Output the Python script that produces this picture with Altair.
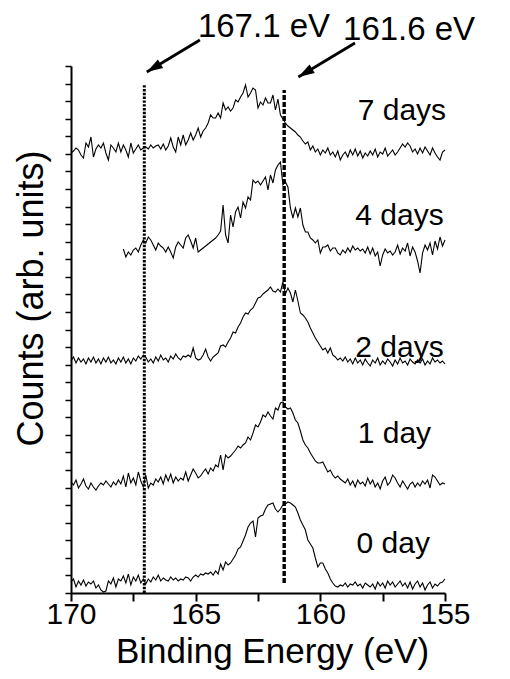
import altair as alt
import pandas as pd

FONT = "Liberation Sans"

# Binding energy grid: 0.1 eV steps, descending from the start energy
start_full = 170.0
start_4d = 167.9

# Counts (arb. units, offset stacked)
day0 = [
    11, 14, 6, 12, 8, 13, 7, 11, 9, 12,
    5, 8, 3, 1, 2, 12, 9, 15, 6, 14,
    12, 17, 10, 19, 8, 16, 12, 18, 10, 14,
    9, 14, 11, 16, 13, 18, 12, 15, 13, 12,
    16, 13, 15, 12, 14, 13, 16, 15, 12, 16,
    18, 16, 19, 18, 20, 19, 21, 18, 22, 19,
    29, 23, 31, 28, 30, 34, 38, 44, 46, 52,
    58, 66, 70, 72, 56, 75, 77, 78, 84, 88,
    89, 90, 84, 81, 84, 88, 89, 91, 90, 88,
    86, 80, 73, 68, 63, 53, 49, 45, 35, 26,
    30, 30, 24, 20, 14, 10, 7, 6, 8, 7,
    10, 6, 9, 8, 11, 7, 9, 5, 10, 8,
    6, 9, 4, 11, 7, 10, 5, 12, 8, 11,
    6, 9, 12, 7, 10, 5, 11, 4, 9, 12,
    6, 10, 3, 8, 11, 5, 9, 7, 10, 11,
    14,
]
day1 = [
    111, 108, 113, 105, 109, 114, 107, 104, 110, 106,
    103, 107, 110, 108, 112, 109, 106, 111, 108, 113,
    109, 117, 106, 120, 110, 115, 108, 121, 112, 106,
    118, 105, 110, 108, 114, 111, 116, 109, 118, 112,
    119, 110, 116, 112, 115, 113, 121, 112, 118, 124,
    120, 115, 117, 121, 124, 119, 125, 122, 128, 126,
    138, 123, 138, 135, 137, 140, 143, 147, 145, 148,
    150, 156, 153, 160, 168, 166, 171, 178, 176, 181,
    177, 174, 185, 183, 190, 191, 186, 184, 185, 180,
    173, 170, 162, 153, 148, 145, 140, 136, 132, 130,
    130, 131, 126, 121, 123, 118, 115, 117, 114, 112,
    110, 114, 108, 112, 106, 113, 109, 111, 107, 115,
    109, 113, 106, 110, 104, 112, 116, 108, 111, 118,
    115, 110, 106, 112, 108, 104, 109, 111, 106, 110,
    107, 112, 109, 113, 105, 118, 116, 112, 108, 110,
    109,
]
day2 = [
    232, 236, 230, 235, 231, 234, 229, 235, 231, 236,
    230, 234, 229, 235, 231, 236, 230, 233, 229, 235,
    231, 236, 230, 234, 229, 235, 232, 237, 234, 238,
    236, 231, 234, 230, 236, 232, 238, 233, 235, 231,
    237, 234, 239, 235, 233, 237, 236, 238, 236, 245,
    235, 233, 234, 238, 244, 236, 232, 236, 238, 240,
    247, 248, 246, 251, 255, 261, 260, 266, 270, 276,
    280, 279, 283, 285, 290, 295, 296, 299, 301, 303,
    306, 302, 301, 304, 301, 311, 299, 305, 300, 291,
    303, 292, 280, 278, 275, 271, 265, 260, 255, 251,
    247, 243, 245, 240, 245, 238, 236, 233, 235, 232,
    236, 231, 234, 229, 235, 230, 233, 228, 234, 230,
    227, 233, 230, 235, 228, 232, 229, 234, 231, 227,
    233, 229, 235, 230, 232, 228, 234, 231, 229, 233,
    230, 234, 228, 232, 229, 235, 231, 233, 230, 232,
    229,
]
day4 = [
    344, 336, 341, 338, 343, 345, 341, 348, 353, 350,
    356, 353, 348, 343, 350, 347, 345, 341, 346, 341,
    335, 346, 351, 348, 345, 355, 358, 352, 345, 355,
    341, 343, 345, 347, 349, 351, 353, 355, 358, 362,
    388, 358, 350, 378, 366, 381, 386, 375, 391, 385,
    396, 393, 413, 410, 412, 408, 412, 416, 403, 418,
    410, 423, 428, 431, 408, 411, 406, 385, 375, 385,
    376, 385, 368, 361, 361, 355, 353, 350, 353, 340,
    346, 346, 348, 342, 345, 345, 340, 338, 343, 340,
    345, 341, 347, 343, 345, 342, 344, 340, 346, 339,
    345, 337, 341, 327, 338, 344, 340, 342, 338, 341,
    348, 339, 345, 342, 350, 337, 346, 341, 332, 320,
    340, 348, 343, 350, 338, 352, 344, 356, 347, 353,
]
day7 = [
    440, 442, 445, 443, 438, 435, 450, 446, 456, 436,
    444, 448, 445, 450, 440, 433, 448, 445, 441, 450,
    441, 448, 443, 436, 450, 440, 444, 448, 443, 445,
    446, 444, 448, 445, 447, 448, 444, 449, 443, 447,
    455, 446, 441, 456, 448, 458, 448, 453, 460, 453,
    458, 465, 456, 462, 465, 470, 478, 475, 475, 480,
    475, 490, 483, 486, 482, 485, 493, 491, 496, 500,
    508, 496, 500, 505, 503, 485, 491, 488, 495, 490,
    490, 498, 483, 494, 478, 474, 470, 467, 465, 463,
    461, 458, 456, 452, 449, 451, 443, 447, 441, 444,
    438, 443, 440, 445, 438, 441, 436, 442, 433, 438,
    441, 436, 443, 438, 444, 437, 442, 435, 440, 437,
    442, 438, 444, 436, 441, 439, 445, 437, 440, 443,
    438, 441, 445, 449, 446, 450, 447, 441, 444, 439,
    445, 440, 446, 442, 438, 445, 440, 436, 433, 441,
    443,
]

# Day labels
label_text = ["7 days", "4 days", "2 days", "1 day", "0 day"]
label_energy = [158.5, 158.6, 158.6, 158.5, 158.55]
label_counts = [473, 368, 236, 150, 40]

# Reference lines
ref_energy = [167.06, 161.45]
ref_top = [509, 503]
ref_bottom = [0, 10]

# Annotations (eV text + arrows)
ann_text = ["167.1 eV", "161.6 eV"]
ann_energy = [164.91, 159.09]
ann_counts = [556, 553]
arrow_x1 = [164.83, 158.61]
arrow_y1 = [553, 550]
arrow_x2 = [166.96, 160.88]
arrow_y2 = [521, 516]
arrow_angle = [239, 239]

# Axis ticks
x_ticks = [170, 167.5, 165, 162.5, 160, 157.5, 155]
n_y_ticks = 31

series = [("0 day", start_full, day0), ("1 day", start_full, day1),
          ("2 days", start_full, day2), ("4 days", start_4d, day4),
          ("7 days", start_full, day7)]
rows = []
for name, start, vals in series:
    for i, v in enumerate(vals):
        rows.append({"energy": round(start - 0.1 * i, 1), "counts": v, "series": name})
df = pd.DataFrame(rows)

xs = alt.Scale(domain=[170, 155], nice=False, zero=False)
ys = alt.Scale(domain=[0, 527], nice=False, zero=False)

x_axis = alt.Axis(
    values=x_ticks, tickCount=len(x_ticks),
    labelExpr="datum.value % 5 === 0 ? datum.label : ''",
    labelFont=FONT, labelFontSize=30, labelColor="black",
    labelBaseline="alphabetic", labelPadding=22, labelFlush=False,
    labelOverlap=False, labelBound=False,
    tickSize=8, tickWidth=2, tickColor="black",
    domainColor="black", domainWidth=2, grid=False,
    titleFont=FONT, titleFontSize=35, titleFontWeight="normal", titleColor="black",
    titleX=201, titleY=69, titleBaseline="alphabetic", titleAlign="center",
)
y_axis = alt.Axis(
    values=[round(i * 527 / (n_y_ticks - 1), 2) for i in range(n_y_ticks)],
    tickCount=n_y_ticks, labelOverlap=False,
    labels=False, tickSize=6, tickWidth=1.5, tickColor="black",
    domainColor="black", domainWidth=2, grid=False,
    titleFont=FONT, titleFontSize=36, titleFontWeight="normal", titleColor="black",
    titleX=-40, titleY=232, titleBaseline="middle", titleAlign="center", titleAngle=-90,
)

lines = alt.Chart(df).mark_line(color="black", strokeWidth=1.1).encode(
    x=alt.X("energy:Q", scale=xs, axis=x_axis, title="Binding Energy (eV)"),
    y=alt.Y("counts:Q", scale=ys, axis=y_axis, title="Counts (arb. units)"),
    detail="series:N",
)

ref_df = pd.DataFrame({"energy": ref_energy, "top": ref_top, "bottom": ref_bottom})
dotted = alt.Chart(ref_df.iloc[[0]]).mark_rule(
    color="black", strokeWidth=3, strokeDash=[2.4, 1.4]
).encode(x=alt.X("energy:Q", scale=xs), y=alt.Y("bottom:Q", scale=ys), y2="top:Q")
dashed = alt.Chart(ref_df.iloc[[1]]).mark_rule(
    color="black", strokeWidth=3.4, strokeDash=[5, 2]
).encode(x=alt.X("energy:Q", scale=xs), y=alt.Y("bottom:Q", scale=ys), y2="top:Q")

lab_df = pd.DataFrame({"energy": label_energy, "counts": label_counts, "text": label_text})
labels = alt.Chart(lab_df).mark_text(
    align="left", baseline="alphabetic", font=FONT, fontSize=30, color="black"
).encode(x=alt.X("energy:Q", scale=xs), y=alt.Y("counts:Q", scale=ys), text="text:N")

ann_df = pd.DataFrame({"energy": ann_energy, "counts": ann_counts, "text": ann_text})
ann = alt.Chart(ann_df).mark_text(
    align="left", baseline="alphabetic", font=FONT, fontSize=33, color="black"
).encode(x=alt.X("energy:Q", scale=xs), y=alt.Y("counts:Q", scale=ys), text="text:N")

arr_df = pd.DataFrame({"x1": arrow_x1, "y1": arrow_y1, "x2": arrow_x2, "y2": arrow_y2,
                       "angle": arrow_angle})
shafts = alt.Chart(arr_df).mark_rule(color="black", strokeWidth=2.8).encode(
    x=alt.X("x1:Q", scale=xs), y=alt.Y("y1:Q", scale=ys), x2="x2:Q", y2="y2:Q")
heads = alt.Chart(arr_df).mark_point(
    shape="M0,0L0.7,2.2L-0.7,2.2Z", filled=True, color="black", opacity=1, size=212
).encode(x=alt.X("x2:Q", scale=xs), y=alt.Y("y2:Q", scale=ys),
         angle=alt.Angle("angle:Q", scale=None))

chart = alt.layer(lines, dotted, dashed, labels, ann, shafts, heads).properties(
    width=374, height=527,
    padding={"left": 63, "top": 58, "right": 56, "bottom": 77},
    autosize=alt.AutoSizeParams(type="none"),
    background="white",
).configure_view(stroke=None)

chart.save("out.html", embed_options={"renderer": "svg", "actions": False})
